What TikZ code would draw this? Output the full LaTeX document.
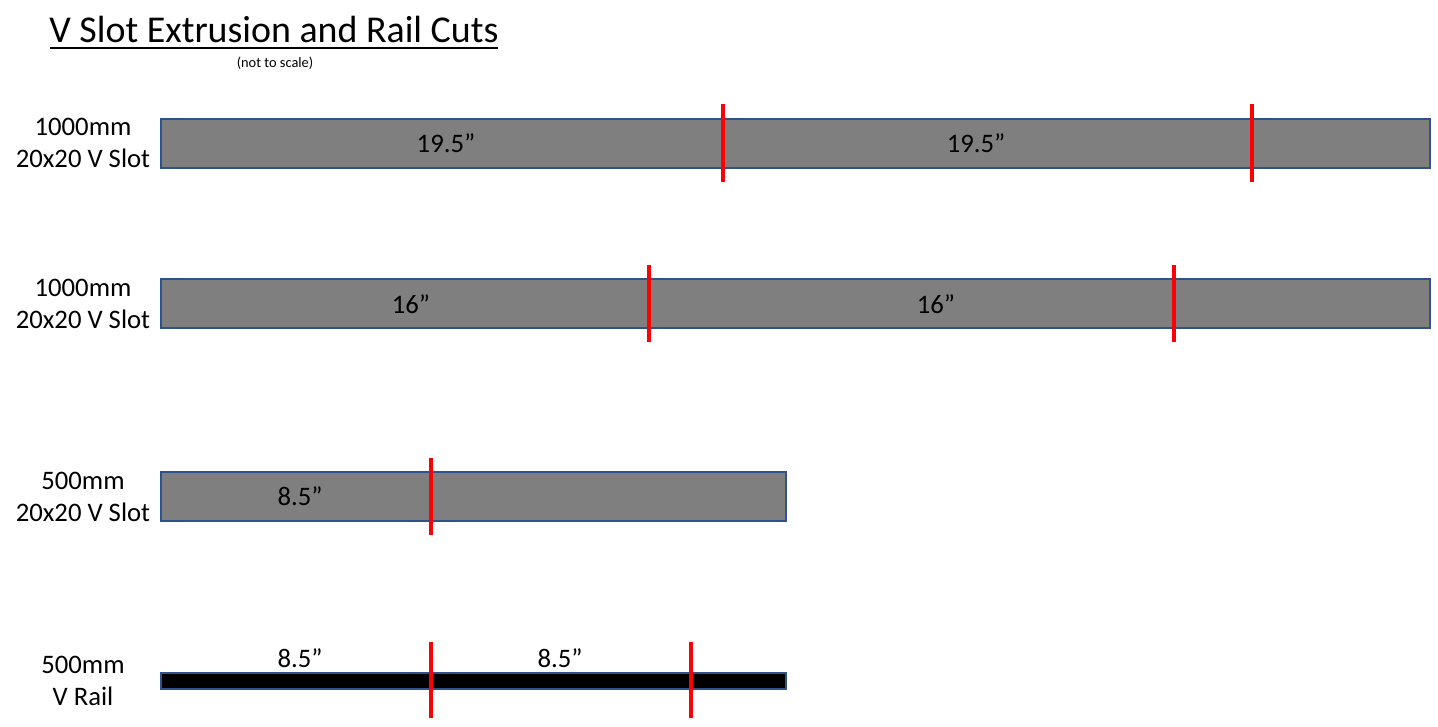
\documentclass[tikz,border=0pt]{standalone}
\usepackage{fontspec}
\setmainfont{Carlito}
\definecolor{bargray}{HTML}{7F7F7F}
\definecolor{barblue}{HTML}{2F528F}
\definecolor{cutred}{HTML}{FF0000}
\tikzset{
  extr/.style={draw=barblue, line width=2pt, fill=bargray},
  rail/.style={draw=barblue, line width=2pt, fill=black},
  cutline/.style={draw=cutred, line width=4pt},
  lbl/.style={font=\fontsize{26.7}{32}\selectfont, align=center, inner sep=0pt},
  blbl/.style={font=\fontsize{26.7}{32}\selectfont, inner sep=0pt},
}
\begin{document}
\begin{tikzpicture}[x=1pt,y=-1pt]
\useasboundingbox (0,0) rectangle (1438,726);
% title
\node[font=\fontsize{37.9}{44}\selectfont, inner sep=0pt, anchor=base] (title) at (274,42) {V Slot Extrusion and Rail Cuts};
\draw[line width=1.8pt] (50,48) -- (498,48);
\node[font=\fontsize{14.4}{17}\selectfont, inner sep=0pt] (sub) at (275,63) {(not to scale)};
% bars
\filldraw[extr] (161,119) rectangle (1430,168);
\filldraw[extr] (161,279) rectangle (1430,328);
\filldraw[extr] (161,472) rectangle (786,521);
\filldraw[rail] (161,673) rectangle (786,689);
% left labels
\node[lbl] (l1) at (83,143) {1000mm\\20x20 V Slot};
\node[lbl] (l2) at (83,304) {1000mm\\20x20 V Slot};
\node[lbl] (l3) at (83,497) {500mm\\20x20 V Slot};
\node[lbl] (l4) at (83,681) {500mm\\V Rail};
% bar labels
\node[blbl] (t1a) at (446,143) {19.5”};
\node[blbl] (t1b) at (976,143) {19.5”};
\node[blbl] (t2a) at (411,304) {16”};
\node[blbl] (t2b) at (936,304) {16”};
\node[blbl] (t3a) at (300,496) {8.5”};
\node[blbl] (t4a) at (300,658) {8.5”};
\node[blbl] (t4b) at (560,658) {8.5”};
% cuts
\draw[cutline] (723,104) -- (723,182);
\draw[cutline] (1252,104) -- (1252,182);
\draw[cutline] (649,265) -- (649,342);
\draw[cutline] (1174,265) -- (1174,342);
\draw[cutline] (431,458) -- (431,535);
\draw[cutline] (431,642) -- (431,718);
\draw[cutline] (691,642) -- (691,718);
\end{tikzpicture}
\end{document}
